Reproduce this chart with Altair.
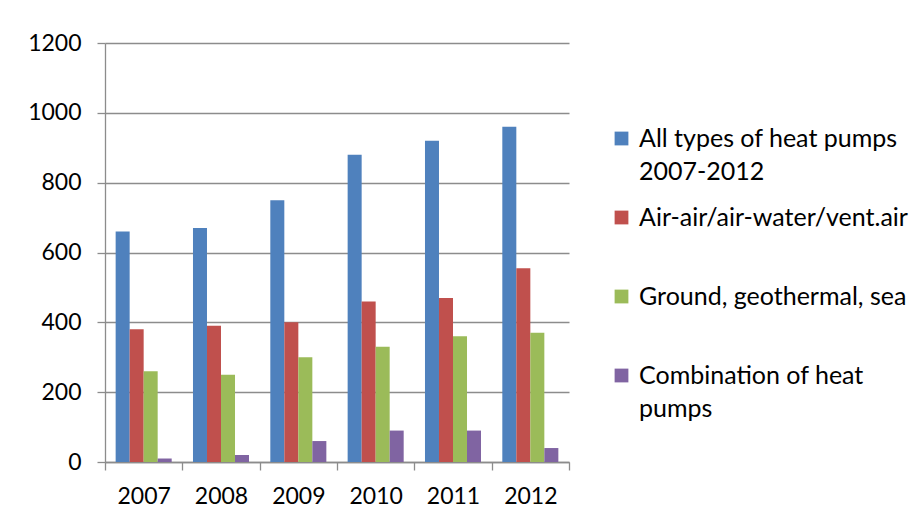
import altair as alt
import pandas as pd

years = ["2007", "2008", "2009", "2010", "2011", "2012"]
series = [
    "All types of heat pumps 2007-2012",
    "Air-air/air-water/vent.air",
    "Ground, geothermal, sea",
    "Combination of heat pumps",
]
all_types = [660, 670, 750, 880, 920, 960]
air = [380, 390, 400, 460, 470, 555]
ground = [260, 250, 300, 330, 360, 370]
combination = [10, 20, 60, 90, 90, 40]
colors = ["#4F81BD", "#C0504D", "#9BBB59", "#8064A2"]
y_ticks = [0, 200, 400, 600, 800, 1000, 1200]

rows = []
for name, vals in zip(series, [all_types, air, ground, combination]):
    for yr, v in zip(years, vals):
        rows.append({"year": yr, "series": name, "value": v})
df = pd.DataFrame(rows)

label_expr = (
    "datum.label == 'All types of heat pumps 2007-2012' ? ['All types of heat pumps', '2007-2012'] : "
    "datum.label == 'Combination of heat pumps' ? ['Combination of heat', 'pumps'] : "
    "[datum.label, ' ']"
)

gray = "#8c8c8c"

chart = alt.Chart(df).mark_bar(opacity=1).encode(
    x=alt.X("year:N", sort=years,
            scale=alt.Scale(paddingInner=0, paddingOuter=0),
            axis=alt.Axis(title=None, labelAngle=0, tickBand="extent", tickSize=8,
                          labelPadding=15, labelFont="Lato", labelFontSize=23,
                          labelColor="black", domainColor=gray, tickColor=gray,
                          domainWidth=1.3, tickWidth=1.3, grid=False)),
    xOffset=alt.XOffset("series:N", sort=series,
                        scale=alt.Scale(paddingInner=0, paddingOuter=0.76)),
    y=alt.Y("value:Q", scale=alt.Scale(domain=[0, 1200], nice=False),
            axis=alt.Axis(title=None, values=y_ticks, format="d", tickSize=8,
                          labelPadding=16, labelFont="Lato", labelFontSize=23,
                          labelColor="black", domainColor=gray, tickColor=gray,
                          gridColor=gray, domainWidth=1.3, tickWidth=1.3,
                          gridWidth=1.3, grid=True)),
    color=alt.Color("series:N", sort=series,
                    scale=alt.Scale(domain=series, range=colors),
                    legend=alt.Legend(title=None, orient="none", legendX=504, legendY=83,
                                      symbolType="square", symbolSize=190,
                                      symbolStrokeWidth=0, symbolOpacity=1,
                                      labelFont="Lato", labelFontSize=25,
                                      labelColor="black",
                                      labelBaseline="middle", rowPadding=20,
                                      labelLimit=400, labelOffset=5, padding=0,
                                      labelExpr=label_expr)),
).properties(
    width=464, height=419,
    autosize=alt.AutoSizeParams(type="none"),
    padding={"left": 97, "top": 35, "right": 340, "bottom": 51},
    background="white",
).configure(
    style={"guide-label": {"lineHeight": 33}}
).configure_view(stroke=None)

chart.save("out.html", embed_options={"renderer": "svg", "actions": False})
